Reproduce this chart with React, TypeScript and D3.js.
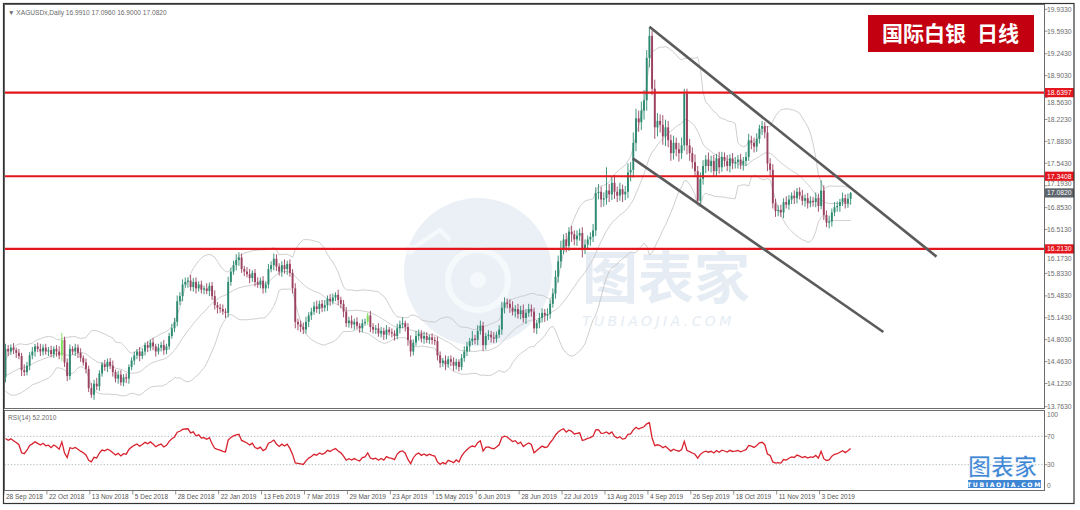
import React from "react";
import * as d3 from "d3";

// ---------------- DATA ----------------
const FIRST_OPEN = 14.22;

const priorCloses = [14.28, 14.22, 14.16, 14.2, 14.13, 14.18, 14.09, 14.15, 14.18, 14.1, 14.26, 14.28, 14.31, 14.3, 14.36, 14.34, 14.28, 14.24, 14.22];

const closes = [
  14.66, 14.62, 14.68, 14.64, 14.6, 14.55, 14.33, 14.3, 14.4, 14.56, 14.62, 14.7, 14.66, 14.62, 14.68, 14.62,
  14.64, 14.58, 14.66, 14.62, 14.56, 14.8, 14.45, 14.24, 14.66, 14.62, 14.68, 14.6, 14.52, 14.45, 14.35, 14.05,
  13.95, 14.12, 14.08, 14.28, 14.42, 14.38, 14.46, 14.4, 14.3, 14.2, 14.26, 14.14, 14.22, 14.2, 14.38, 14.48,
  14.56, 14.62, 14.55, 14.62, 14.72, 14.68, 14.76, 14.7, 14.62, 14.68, 14.72, 14.64, 14.7, 14.86, 14.98, 15.08,
  15.4, 15.48, 15.66, 15.7, 15.72, 15.62, 15.7, 15.6, 15.66, 15.58, 15.6, 15.56, 15.64, 15.48, 15.34, 15.3,
  15.28, 15.24, 15.22, 15.7, 15.86, 15.96, 16.04, 16.08, 15.9, 15.86, 15.82, 15.76, 15.84, 15.7, 15.66, 15.72,
  15.6, 15.66, 15.9, 15.96, 16.06, 15.94, 15.86, 15.96, 15.9, 15.98, 15.84, 15.6, 15.08, 15.04, 15.0, 14.96,
  15.08, 15.18, 15.24, 15.32, 15.28, 15.36, 15.3, 15.34, 15.44, 15.4, 15.46, 15.5, 15.42, 15.36, 15.24, 15.06,
  15.1, 15.04, 15.08, 15.02, 14.98, 15.06, 15.08, 15.18, 15.0, 14.96, 14.98, 14.9, 14.94, 14.88, 14.96, 14.92,
  14.9, 14.86, 14.98, 15.04, 15.06, 15.0, 14.8, 14.62, 14.76, 14.86, 14.9, 14.82, 14.86, 14.8, 14.84, 14.8,
  14.78, 14.56, 14.44, 14.48, 14.42, 14.5, 14.46, 14.4, 14.46, 14.38, 14.52, 14.62, 14.7, 14.78, 14.82, 14.8,
  14.94, 15.02, 14.72, 14.86, 14.88, 14.84, 14.82, 14.88, 14.96, 15.3, 15.38, 15.36, 15.3, 15.24, 15.28, 15.2,
  15.26, 15.14, 15.22, 15.28, 15.24, 14.98, 15.06, 15.14, 15.22, 15.18, 15.2, 15.36, 15.52, 15.78, 16.02, 16.22,
  16.36, 16.26, 16.48, 16.44, 16.36, 16.42, 16.46, 16.22, 16.28, 16.36, 16.4, 16.5, 17.08, 17.1, 16.98, 17.0,
  17.12, 17.06, 17.24, 17.1, 17.04, 17.14, 17.06, 17.1, 17.4, 17.44, 17.86, 18.24, 18.18, 18.36, 18.52, 19.18,
  19.52, 18.7, 18.1, 18.2, 18.14, 17.96, 18.1, 17.9, 17.7, 17.86, 17.76, 17.7, 17.82, 18.62, 17.82, 17.7,
  17.56, 17.42, 16.96, 17.3, 17.5, 17.6, 17.5, 17.58, 17.42, 17.62, 17.48, 17.64, 17.58, 17.5, 17.62, 17.54,
  17.56, 17.6, 17.52, 17.58, 17.64, 17.9, 17.86, 17.8, 17.92, 18.08, 18.12, 18.02, 17.54, 17.44, 16.92, 16.8,
  16.82, 16.78, 16.94, 16.9, 16.98, 17.04, 17.0, 17.1, 17.04, 16.96, 17.0, 16.92, 16.96, 16.94, 17.0, 16.88,
  17.12, 16.74, 16.62, 16.64, 16.78, 16.86, 16.88, 16.94, 17.0, 16.92, 16.991, 17.082,
];

// upper / lower shadow lengths, in cents
const upWick = [
  8, 6, 5, 7, 4, 6, 5, 9, 6, 5, 7, 4, 6, 8, 5, 6,
  5, 7, 4, 6, 8, 11, 5, 6, 7, 4, 6, 5, 7, 4, 6, 5,
  8, 6, 9, 5, 4, 7, 5, 6, 8, 4, 6, 7, 5, 6, 4, 5,
  6, 4, 7, 5, 4, 6, 5, 7, 4, 6, 5, 8, 4, 5, 7, 6,
  9, 6, 8, 7, 5, 9, 6, 7, 5, 6, 4, 8, 5, 6, 9, 5,
  6, 7, 5, 8, 6, 7, 9, 8, 6, 5, 7, 8, 4, 6, 7, 5,
  7, 5, 8, 6, 8, 7, 5, 6, 9, 5, 7, 6, 8, 5, 6, 7,
  8, 5, 6, 7, 9, 5, 6, 8, 5, 7, 6, 4, 8, 5, 6, 7,
  6, 8, 5, 7, 4, 6, 5, 4, 7, 6, 5, 8, 6, 5, 7, 4,
  6, 5, 7, 6, 9, 4, 6, 7, 5, 8, 6, 5, 7, 6, 4, 6,
  5, 7, 6, 4, 8, 5, 6, 7, 5, 4, 6, 8, 7, 5, 12, 6,
  9, 8, 6, 5, 7, 6, 8, 5, 7, 9, 8, 6, 7, 10, 6, 8,
  7, 9, 6, 8, 7, 6, 5, 8, 7, 6, 9, 7, 8, 10, 9, 12,
  8, 10, 7, 9, 6, 8, 7, 9, 8, 6, 7, 10, 9, 12, 8, 9,
  36, 10, 9, 12, 8, 10, 7, 9, 14, 12, 16, 15, 12, 14, 16, 12,
  13, 8, 14, 12, 10, 15, 12, 10, 9, 11, 8, 10, 12, 8, 8, 10,
  9, 12, 8, 10, 9, 7, 11, 8, 9, 7, 10, 8, 7, 9, 6, 8,
  8, 7, 9, 6, 8, 10, 7, 8, 9, 6, 8, 6, 10, 8, 9, 7,
  7, 8, 6, 9, 7, 5, 8, 6, 7, 9, 6, 8, 7, 6, 9, 7,
  16, 8, 7, 9, 6, 8, 7, 5, 9, 6, 8, 1.4,
];

const downWick = [
  8, 7, 5, 6, 8, 5, 9, 6, 5, 7, 6, 8, 5, 7, 6, 5,
  7, 5, 6, 8, 6, 9, 7, 8, 6, 5, 7, 8, 6, 5, 7, 6,
  5, 8, 6, 7, 5, 6, 8, 5, 7, 6, 8, 5, 6, 7, 8, 5,
  7, 6, 8, 5, 6, 7, 5, 6, 8, 5, 6, 7, 6, 5, 4, 6,
  7, 6, 8, 5, 9, 6, 7, 8, 5, 6, 7, 5, 8, 6, 7, 9,
  6, 5, 8, 7, 6, 5, 8, 9, 6, 7, 5, 8, 6, 7, 5, 6,
  8, 7, 6, 5, 8, 7, 6, 8, 7, 9, 6, 8, 10, 9, 8, 7,
  6, 8, 7, 5, 6, 8, 7, 6, 9, 7, 5, 6, 8, 7, 9, 6,
  7, 6, 8, 5, 7, 6, 4, 5, 8, 6, 7, 5, 6, 8, 7, 5,
  6, 7, 5, 8, 6, 7, 9, 8, 6, 5, 7, 6, 8, 5, 6, 7,
  6, 8, 7, 6, 9, 5, 7, 8, 6, 7, 5, 6, 7, 8, 6, 7,
  8, 6, 9, 7, 6, 8, 7, 6, 5, 8, 9, 7, 8, 6, 9, 7,
  8, 7, 9, 6, 8, 7, 9, 8, 7, 10, 8, 7, 6, 8, 9, 10,
  9, 10, 8, 12, 9, 10, 8, 14, 9, 8, 10, 8, 9, 10, 12, 11,
  10, 12, 9, 11, 10, 8, 12, 9, 10, 14, 12, 13, 15, 12, 14, 16,
  15, 10, 18, 14, 12, 13, 15, 11, 12, 10, 11, 13, 9, 8, 14, 12,
  10, 9, 4, 8, 9, 11, 8, 10, 9, 8, 10, 7, 9, 8, 10, 9,
  8, 10, 7, 9, 8, 6, 10, 9, 8, 7, 10, 9, 12, 10, 8, 9,
  8, 7, 9, 6, 8, 7, 9, 8, 6, 7, 9, 8, 6, 7, 8, 9,
  5, 8, 7, 9, 8, 6, 7, 9, 6, 8, 7, 9.1,
];

const limeBars = [21, 135];

const xTickLabels = [
  "28 Sep 2018", "22 Oct 2018", "13 Nov 2018", "5 Dec 2018", "28 Dec 2018", "22 Jan 2019", "13 Feb 2019",
  "7 Mar 2019", "29 Mar 2019", "23 Apr 2019", "15 May 2019", "6 Jun 2019", "28 Jun 2019", "22 Jul 2019",
  "13 Aug 2019", "4 Sep 2019", "26 Sep 2019", "18 Oct 2019", "11 Nov 2019", "3 Dec 2019",
];
const X_TICK_STEP = 16;

const yTickValues = [19.933, 19.593, 19.243, 18.903, 18.563, 18.223, 17.883, 17.543, 17.193, 16.853, 16.513, 16.173, 15.833, 15.483, 15.143, 14.803, 14.463, 14.123, 13.763];
const levelLines = [18.6397, 17.3408, 16.213];
const channelUpper: [number, number][] = [[240, 19.663], [347, 16.093]];
const channelLower: [number, number][] = [[233.8, 17.619], [327.2, 14.922]];
const rsiTicks = [100, 70, 30, 0];
const rsiLevels = [70, 30];
const lastClose = 17.082;

// ---------------- COMPONENT ----------------
export default function App() {
  const W = 1080, H = 510;
  const left = 4.5, right = 1044.5, mainTop = 4.5, mainBottom = 408.5, rsiTop = 410.5, rsiBottom = 490.5;

  const x = d3.scaleLinear().domain([0, 387]).range([5.5, 1043.8]);
  const y = d3.scaleLinear().domain([13.763, 19.933]).range([406.7, 9.3]);
  const yr = d3.scaleLinear().domain([0, 100]).range([486, 415]);

  const bars = closes.map((c, i) => {
    const o = i === 0 ? FIRST_OPEN : closes[i - 1];
    const hi = Math.max(o, c) + upWick[i] / 100;
    const lo = Math.min(o, c) - downWick[i] / 100;
    return { i, o, c, hi, lo };
  });

  // Bollinger (20, 2)
  const all = [...priorCloses, ...closes];
  const P = priorCloses.length;
  const bb = closes.map((_, i) => {
    const k = i + P;
    const win = all.slice(Math.max(0, k - 19), k + 1);
    const m = d3.mean(win)!;
    const sd = Math.sqrt(d3.mean(win.map((v) => (v - m) * (v - m)))!);
    return { i, m, up: m + 2 * sd, dn: m - 2 * sd };
  });

  // RSI 14 (Wilder)
  const rsi: { i: number; v: number }[] = [];
  let ag = 0, al = 0;
  for (let k = 1; k < all.length; k++) {
    const d = all[k] - all[k - 1];
    const g = Math.max(d, 0), l = Math.max(-d, 0);
    if (k <= 14) {
      ag += g / 14; al += l / 14;
    } else {
      ag = (ag * 13 + g) / 14; al = (al * 13 + l) / 14;
    }
    if (k >= P) rsi.push({ i: k - P, v: al === 0 ? 100 : 100 - 100 / (1 + ag / al) });
  }

  const lineBB = (key: "m" | "up" | "dn") =>
    d3.line<any>().x((d) => x(d.i)).y((d) => y(d[key]))(bb) || "";
  const rsiPath = d3.line<any>().x((d) => x(d.i)).y((d) => yr(d.v))(rsi) || "";

  // keep tick texts clear of the highlighted axis labels
  const flagged = [...levelLines, lastClose].map((v) => y(v));
  const tickTextY = (v: number) => {
    const py = y(v);
    for (const fy of flagged) {
      if (Math.abs(py - fy) < 9.5) return py >= fy ? fy + 9.6 : fy - 9.6;
    }
    return py;
  };

  const bull = "#2e8a70", bear = "#9a4260";
  const axisFont = "'Liberation Sans', Arial, sans-serif";

  return (
    <svg width={W} height={H} style={{ position: "absolute", left: 0, top: 0, background: "#fff" }} fontFamily={axisFont}>
      <defs>
        <clipPath id="mainClip"><rect x={left} y={mainTop} width={right - left} height={mainBottom - mainTop} /></clipPath>
        <clipPath id="rsiClip"><rect x={left} y={rsiTop} width={right - left} height={rsiBottom - rsiTop} /></clipPath>
      </defs>
      <rect x={0} y={0} width={W} height={H} fill="#fff" />

      {/* watermark */}
      <g opacity={0.7}>
        <circle cx={478} cy={272} r={74} fill="#e3ebf4" />
        <circle cx={478} cy={280} r={30} fill="none" stroke="#f3f7fb" strokeWidth={6} />
        <circle cx={478} cy={280} r={8} fill="#f3f7fb" />
        <path d="M 410 250 L 440 230 L 450 240" fill="none" stroke="#f3f7fb" strokeWidth={4} />
        <circle cx={410} cy={250} r={5} fill="#f3f7fb" />
        <text x={582} y={298} fontSize={56} fontWeight={700} fill="#dbe5f0" fontFamily="'Noto Sans CJK SC', sans-serif">图表家</text>
        <text x={582} y={326} fontSize={14} fontStyle="italic" letterSpacing={3.4} fill="#dbe5f0" fontFamily="'DejaVu Sans', sans-serif">TUBIAOJIA.COM</text>
      </g>

      {/* main panel */}
      <g clipPath="url(#mainClip)">
        <path d={lineBB("up")} fill="none" stroke="#c8c8c8" strokeWidth={0.9} />
        <path d={lineBB("m")} fill="none" stroke="#c8c8c8" strokeWidth={0.9} />
        <path d={lineBB("dn")} fill="none" stroke="#c8c8c8" strokeWidth={0.9} />
        {bars.map((b) => {
          const col = limeBars.includes(b.i) ? "#7ee05a" : b.c >= b.o ? bull : bear;
          const top = y(Math.max(b.o, b.c));
          const h = Math.max(1, y(Math.min(b.o, b.c)) - top);
          return (
            <g key={b.i}>
              <line x1={x(b.i)} x2={x(b.i)} y1={y(b.hi)} y2={y(b.lo)} stroke={col} strokeWidth={0.9} />
              <rect x={x(b.i) - 0.95} y={top} width={1.9} height={h} fill={col} />
            </g>
          );
        })}
        {levelLines.map((v) => (
          <line key={v} x1={left} x2={right} y1={y(v)} y2={y(v)} stroke="#e3151d" strokeWidth={2.2} />
        ))}
        <line x1={x(channelUpper[0][0])} y1={y(channelUpper[0][1])} x2={x(channelUpper[1][0])} y2={y(channelUpper[1][1])} stroke="#5b5b5b" strokeWidth={2.6} />
        <line x1={x(channelLower[0][0])} y1={y(channelLower[0][1])} x2={x(channelLower[1][0])} y2={y(channelLower[1][1])} stroke="#5b5b5b" strokeWidth={2.6} />
      </g>

      {/* title box */}
      <rect x={868} y={15} width={166} height={37} fill="#c30010" />
      <text y={41} fontSize={21} fontWeight={700} fill="#fff" fontFamily="'Noto Sans CJK SC', sans-serif">
        <tspan x={882}>国际白银</tspan>
        <tspan x={977}>日线</tspan>
      </text>

      <text x={8} y={14.5} fontSize={6.6} fill="#6a6a6a">▼ XAGUSDx,Daily  16.9910 17.0960 16.9000 17.0820</text>

      {/* price axis */}
      {yTickValues.map((v) => (
        <g key={v}>
          <line x1={right} x2={right + 3} y1={y(v)} y2={y(v)} stroke="#777" strokeWidth={0.8} />
          <text x={1047} y={tickTextY(v)} dy="0.35em" fontSize={6.8} fill="#6c6c6c">{v.toFixed(4)}</text>
        </g>
      ))}
      {levelLines.map((v) => (
        <g key={"l" + v}>
          <rect x={1045} y={y(v) - 4.6} width={29} height={9.2} fill="#e3151d" />
          <text x={1047} y={y(v)} dy="0.35em" fontSize={6.8} fill="#fff">{v.toFixed(4)}</text>
        </g>
      ))}
      <rect x={1045} y={y(lastClose) - 4.6} width={29} height={9.2} fill="#5d646c" />
      <text x={1047} y={y(lastClose)} dy="0.35em" fontSize={6.8} fill="#fff">{lastClose.toFixed(4)}</text>

      {/* RSI panel */}
      <g clipPath="url(#rsiClip)">
        {rsiLevels.map((v) => (
          <line key={v} x1={left} x2={right} y1={yr(v)} y2={yr(v)} stroke="#8fa0a6" strokeWidth={0.8} strokeDasharray="1.2,2" />
        ))}
        <path d={rsiPath} fill="none" stroke="#d8232f" strokeWidth={1.3} />
      </g>
      <text x={8} y={419.5} fontSize={6.6} fill="#6a6a6a">RSI(14) 52.2010</text>
      {rsiTicks.map((v) => (
        <g key={"r" + v}>
          {(v === 70 || v === 30) && <line x1={right} x2={right + 3} y1={yr(v)} y2={yr(v)} stroke="#777" strokeWidth={0.8} />}
          <text x={1047} y={yr(v)} dy="0.35em" fontSize={6.6} fill="#6c6c6c">{v}</text>
        </g>
      ))}

      {/* x axis */}
      {xTickLabels.map((lab, k) => {
        const px = x(k * X_TICK_STEP);
        return (
          <g key={lab}>
            <line x1={px - 1.5} x2={px - 1.5} y1={rsiBottom} y2={rsiBottom + 4} stroke="#777" strokeWidth={0.8} />
            <text x={px + 0.5} y={498.5} fontSize={6.5} fill="#555">{lab}</text>
          </g>
        );
      })}

      {/* frames */}
      <rect x={left} y={mainTop} width={right - left} height={mainBottom - mainTop} fill="none" stroke="#6b6b6b" strokeWidth={1} />
      <rect x={left} y={rsiTop} width={right - left} height={rsiBottom - rsiTop} fill="none" stroke="#6b6b6b" strokeWidth={1} />
      <rect x={3.5} y={3.5} width={1070.5} height={500} fill="none" stroke="#333" strokeWidth={1.2} />

      {/* bottom right logo */}
      <text x={968} y={475} fontSize={23} fontWeight={700} fill="#3e86d4" stroke="#ffffff" strokeWidth={0.6} fontFamily="'Noto Sans CJK SC', sans-serif">图表家</text>
      <rect x={968} y={480} width={73} height={8} fill="#3e86d4" />
      <text x={1004.5} y={486.6} textAnchor="middle" fontSize={6.2} letterSpacing={1.6} fontWeight={700} fill="#fff" fontFamily="'DejaVu Sans', sans-serif">TUBIAOJIA.COM</text>
    </svg>
  );
}
